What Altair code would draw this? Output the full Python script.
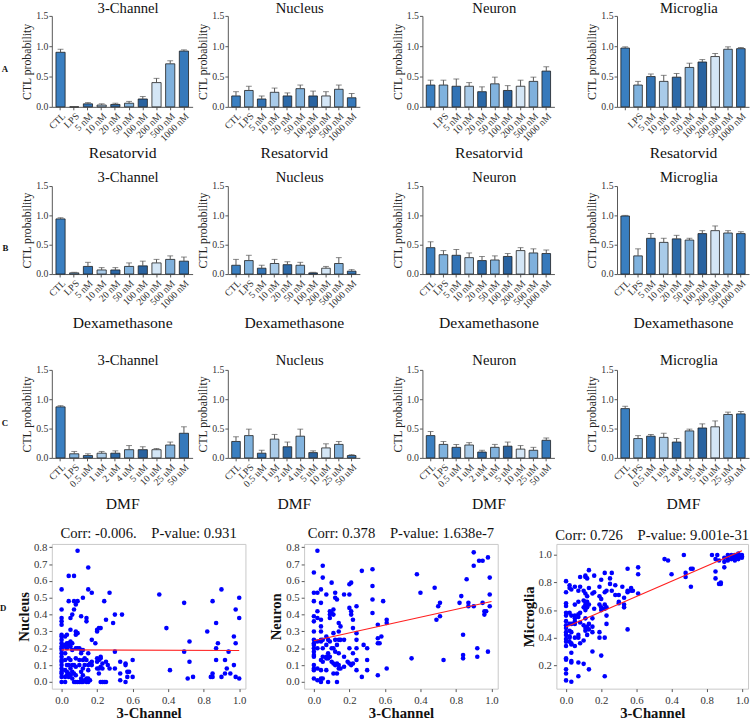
import altair as alt
import pandas as pd

FONT = "Liberation Serif"
AX = "#555555"

RES_CATS = ["CTL", "LPS", "5 nM", "10 nM", "20 nM", "50 nM", "100 nM", "200 nM", "500 nM", "1000 nM"]
DMF_CATS = ["CTL", "LPS", "0.5 uM", "1 uM", "2 uM", "4 uM", "5 uM", "10 uM", "25 uM", "50 uM"]
BAR_COLORS = ["#3a7fc1", "#7fb2de", "#3273b5", "#a9cbe9", "#2c69a8",
              "#82b3de", "#2a63a0", "#d4e6f6", "#7fb0dc", "#3679bb"]

# Row A - Resatorvid
A_3CH = [0.90, 0.00, 0.05, 0.03, 0.04, 0.06, 0.13, 0.40, 0.71, 0.92]
A_3CH_ERR = [0.05, 0.005, 0.02, 0.02, 0.02, 0.03, 0.04, 0.07, 0.05, 0.02]
A_NUC = [0.18, 0.27, 0.13, 0.24, 0.18, 0.30, 0.18, 0.18, 0.29, 0.15]
A_NUC_ERR = [0.07, 0.07, 0.05, 0.07, 0.05, 0.06, 0.08, 0.07, 0.07, 0.07]
A_NEU = [0.36, 0.36, 0.34, 0.34, 0.25, 0.38, 0.27, 0.34, 0.42, 0.59]
A_NEU_ERR = [0.08, 0.08, 0.12, 0.06, 0.08, 0.11, 0.08, 0.10, 0.07, 0.07]
A_MIC = [0.97, 0.36, 0.50, 0.42, 0.49, 0.65, 0.74, 0.83, 0.95, 0.96]
A_MIC_ERR = [0.02, 0.06, 0.04, 0.10, 0.06, 0.07, 0.04, 0.05, 0.04, 0.02]

# Row B - Dexamethasone
B_3CH = [0.94, 0.02, 0.13, 0.07, 0.07, 0.13, 0.14, 0.19, 0.25, 0.22]
B_3CH_ERR = [0.02, 0.01, 0.07, 0.04, 0.04, 0.06, 0.08, 0.06, 0.06, 0.07]
B_NUC = [0.15, 0.23, 0.10, 0.18, 0.16, 0.15, 0.02, 0.10, 0.18, 0.05]
B_NUC_ERR = [0.10, 0.09, 0.05, 0.07, 0.05, 0.05, 0.01, 0.03, 0.10, 0.03]
B_NEU = [0.45, 0.33, 0.32, 0.28, 0.23, 0.24, 0.30, 0.40, 0.36, 0.35]
B_NEU_ERR = [0.10, 0.07, 0.10, 0.08, 0.07, 0.07, 0.05, 0.05, 0.07, 0.06]
B_MIC = [0.99, 0.31, 0.61, 0.54, 0.60, 0.58, 0.69, 0.74, 0.70, 0.69]
B_MIC_ERR = [0.01, 0.12, 0.08, 0.07, 0.06, 0.03, 0.05, 0.08, 0.04, 0.03]

# Row C - DMF
C_3CH = [0.87, 0.07, 0.04, 0.08, 0.08, 0.14, 0.14, 0.14, 0.22, 0.42]
C_3CH_ERR = [0.02, 0.04, 0.03, 0.03, 0.04, 0.07, 0.05, 0.02, 0.05, 0.11]
C_NUC = [0.28, 0.38, 0.08, 0.32, 0.19, 0.37, 0.09, 0.17, 0.23, 0.04]
C_NUC_ERR = [0.08, 0.11, 0.05, 0.08, 0.08, 0.12, 0.03, 0.07, 0.05, 0.02]
C_NEU = [0.38, 0.23, 0.18, 0.22, 0.10, 0.18, 0.20, 0.15, 0.13, 0.30]
C_NEU_ERR = [0.07, 0.05, 0.05, 0.04, 0.03, 0.05, 0.07, 0.06, 0.05, 0.04]
C_MIC = [0.84, 0.33, 0.37, 0.35, 0.27, 0.46, 0.51, 0.53, 0.74, 0.75]
C_MIC_ERR = [0.04, 0.05, 0.03, 0.07, 0.06, 0.03, 0.07, 0.10, 0.04, 0.04]

# Row D scatter data, grouped by 3-Channel value: (x, [y values])
S1_GROUPS = [
    (0.00, [0.55, 0.43, 0.38, 0.36, 0.34, 0.28, 0.27, 0.25, 0.23, 0.21, 0.20, 0.19, 0.17, 0.15, 0.13, 0.12, 0.10, 0.08, 0.06, 0.05, 0.03, 0.0]),
    (0.02, [0.27, 0.22, 0.21, 0.17, 0.13, 0.07, 0.03, 0.0]),
    (0.03, [0.28, 0.23, 0.20, 0.10, 0.06, 0.04]),
    (0.04, [0.63, 0.48, 0.23, 0.22, 0.14, 0.10, 0.05, 0.03]),
    (0.05, [0.38, 0.31, 0.24, 0.21, 0.13, 0.08, 0.04]),
    (0.06, [0.40, 0.23, 0.19, 0.10, 0.06, 0.02]),
    (0.07, [0.63, 0.48, 0.43, 0.10, 0.05, 0.0]),
    (0.08, [0.46, 0.30, 0.28, 0.20, 0.14, 0.09, 0.04, 0.0]),
    (0.09, [0.78, 0.48, 0.29, 0.20, 0.0]),
    (0.10, [0.20, 0.13, 0.10, 0.0]),
    (0.11, [0.39, 0.19, 0.17, 0.06, 0.02, 0.0]),
    (0.12, [0.50, 0.19, 0.13, 0.08, 0.04, 0.0]),
    (0.13, [0.14, 0.10, 0.01]),
    (0.14, [0.38, 0.36, 0.13, 0.02, 0.0]),
    (0.15, [0.68, 0.55, 0.17, 0.10, 0.07, 0.02, 0.0]),
    (0.16, [0.11, 0.01]),
    (0.17, [0.53, 0.25, 0.12, 0.10]),
    (0.19, [0.23]),
    (0.20, [0.31, 0.30, 0.14, 0.12, 0.08]),
    (0.21, [0.32, 0.13, 0.08, 0.05]),
    (0.22, [0.32, 0.15, 0.14, 0.09, 0.0]),
    (0.23, [0.11, 0.08, 0.0]),
    (0.24, [0.48, 0.0]),
    (0.25, [0.37, 0.12, 0.0]),
    (0.26, [0.10]),
    (0.27, [0.53, 0.08]),
    (0.29, [0.35]),
    (0.30, [0.40, 0.18, 0.08]),
    (0.33, [0.12, 0.05, 0.01]),
    (0.34, [0.40]),
    (0.36, [0.11, 0.10, 0.0]),
    (0.37, [0.06, 0.03]),
    (0.38, [0.06]),
    (0.40, [0.13, 0.03]),
    (0.55, [0.52]),
    (0.59, [0.32]),
    (0.61, [0.07]),
    (0.69, [0.47, 0.18]),
    (0.71, [0.02]),
    (0.72, [0.24, 0.12]),
    (0.74, [0.03]),
    (0.82, [0.30]),
    (0.84, [0.03]),
    (0.85, [0.48, 0.05, 0.03]),
    (0.87, [0.35, 0.20, 0.13]),
    (0.88, [0.23]),
    (0.90, [0.55, 0.03]),
    (0.92, [0.13, 0.05]),
    (0.93, [0.08]),
    (0.94, [0.18]),
    (0.95, [0.05]),
    (0.97, [0.27, 0.10]),
    (0.98, [0.43, 0.23, 0.03]),
    (1.00, [0.50, 0.38, 0.02]),
]
S2_GROUPS = [
    (0.00, [0.65, 0.53, 0.48, 0.39, 0.36, 0.30, 0.25, 0.23, 0.22, 0.20, 0.18, 0.16, 0.15, 0.10, 0.08, 0.07, 0.02]),
    (0.02, [0.78, 0.53, 0.42, 0.38, 0.24, 0.20, 0.08, 0.01]),
    (0.04, [0.55, 0.47, 0.37, 0.33, 0.30, 0.25, 0.24, 0.13, 0.07, 0.02, 0.0]),
    (0.05, [0.69, 0.62, 0.25, 0.20, 0.15, 0.12, 0.02]),
    (0.07, [0.52, 0.27, 0.22, 0.15, 0.14, 0.07]),
    (0.08, [0.25, 0.17, 0.14, 0.0]),
    (0.09, [0.42, 0.40, 0.38, 0.24, 0.15]),
    (0.10, [0.59, 0.41, 0.20, 0.12]),
    (0.11, [0.43, 0.40, 0.29, 0.20, 0.11, 0.05]),
    (0.12, [0.53, 0.50, 0.25, 0.18, 0.10]),
    (0.13, [0.49, 0.22, 0.11, 0.05, 0.0]),
    (0.14, [0.35, 0.30, 0.25, 0.17, 0.10, 0.08]),
    (0.15, [0.33, 0.25, 0.08]),
    (0.17, [0.52, 0.25, 0.15, 0.09]),
    (0.19, [0.12]),
    (0.20, [0.58, 0.52, 0.44, 0.20, 0.11]),
    (0.21, [0.59, 0.42, 0.40, 0.10]),
    (0.22, [0.37, 0.32, 0.17, 0.11]),
    (0.24, [0.45, 0.29, 0.25, 0.20, 0.13, 0.07]),
    (0.27, [0.66, 0.03]),
    (0.28, [0.22]),
    (0.30, [0.20, 0.13, 0.07]),
    (0.33, [0.67, 0.57, 0.49, 0.41]),
    (0.36, [0.34, 0.26, 0.23, 0.04]),
    (0.37, [0.23]),
    (0.38, [0.27]),
    (0.39, [0.48]),
    (0.41, [0.37, 0.35, 0.08]),
    (0.55, [0.14]),
    (0.58, [0.64]),
    (0.60, [0.53]),
    (0.68, [0.56]),
    (0.69, [0.37]),
    (0.70, [0.45]),
    (0.71, [0.47, 0.39]),
    (0.73, [0.13]),
    (0.82, [0.47]),
    (0.83, [0.51]),
    (0.84, [0.28, 0.16, 0.14]),
    (0.86, [0.61]),
    (0.87, [0.47, 0.45]),
    (0.90, [0.77, 0.69, 0.45]),
    (0.92, [0.20, 0.15]),
    (0.93, [0.72]),
    (0.95, [0.72, 0.47]),
    (0.96, [0.42, 0.40]),
    (0.97, [0.42]),
    (0.98, [0.74, 0.18]),
    (0.99, [0.62, 0.52, 0.45]),
]
S3_GROUPS = [
    (0.00, [0.81, 0.73, 0.65, 0.63, 0.58, 0.56, 0.52, 0.49, 0.47, 0.44, 0.42, 0.39, 0.37, 0.34, 0.25, 0.24, 0.17, 0.14, 0.09]),
    (0.02, [0.78, 0.76, 0.58, 0.50, 0.45, 0.41, 0.40, 0.37]),
    (0.03, [0.75, 0.56, 0.50, 0.44, 0.36, 0.35, 0.29, 0.23, 0.22, 0.08]),
    (0.05, [0.77, 0.64, 0.56, 0.54, 0.52, 0.50, 0.40, 0.34]),
    (0.07, [0.74, 0.66, 0.57, 0.55, 0.42, 0.40, 0.22, 0.12]),
    (0.08, [0.84, 0.77, 0.58, 0.51, 0.36]),
    (0.10, [0.74, 0.67, 0.62, 0.49, 0.38, 0.21]),
    (0.11, [0.85, 0.84, 0.72, 0.66, 0.64, 0.60, 0.54, 0.47, 0.45]),
    (0.12, [0.83, 0.70, 0.66, 0.62, 0.48, 0.42]),
    (0.13, [0.89, 0.76, 0.64, 0.50, 0.46, 0.17]),
    (0.15, [0.72, 0.54, 0.48, 0.44, 0.30]),
    (0.16, [0.85, 0.73, 0.61]),
    (0.19, [0.77, 0.70, 0.64, 0.44, 0.40]),
    (0.20, [0.82, 0.68, 0.62, 0.60, 0.27]),
    (0.22, [0.87, 0.73, 0.64, 0.61, 0.40, 0.12]),
    (0.23, [0.74, 0.62, 0.56, 0.50]),
    (0.25, [0.83, 0.79]),
    (0.26, [0.87, 0.74]),
    (0.28, [0.78, 0.71]),
    (0.30, [0.71, 0.66, 0.65]),
    (0.32, [0.77]),
    (0.33, [0.69, 0.64, 0.62]),
    (0.35, [0.90, 0.74, 0.73, 0.46]),
    (0.37, [0.76, 0.74]),
    (0.38, [0.74]),
    (0.41, [0.91, 0.86, 0.72]),
    (0.56, [0.97]),
    (0.58, [0.96]),
    (0.60, [0.86]),
    (0.67, [1.00]),
    (0.68, [0.87, 0.84]),
    (0.71, [0.90, 0.77]),
    (0.72, [0.90]),
    (0.83, [1.00]),
    (0.85, [0.97, 0.88, 0.83]),
    (0.86, [1.00]),
    (0.87, [0.96, 0.79]),
    (0.88, [0.80, 0.79]),
    (0.90, [0.98, 0.95, 0.91]),
    (0.92, [1.00, 0.97, 0.96]),
    (0.94, [1.00, 0.99, 0.97]),
    (0.96, [1.00, 0.99, 0.98, 0.96]),
    (0.98, [1.01, 1.00, 0.99, 0.98, 0.97]),
    (1.00, [1.00, 0.99, 0.98]),
]
# regression lines: intercept, slope
REG_INTERCEPT = [0.190, 0.245, 0.478]
REG_SLOPE = [-0.003, 0.233, 0.552]
CORR_TITLES = ["Corr: -0.006.\u00a0\u00a0\u00a0\u00a0P-value: 0.931",
               "Corr: 0.378\u00a0\u00a0\u00a0\u00a0P-value: 1.638e-7",
               "Corr: 0.726\u00a0\u00a0\u00a0\u00a0P-value: 9.001e-31"]
X_TICKS = [0.0, 0.2, 0.4, 0.6, 0.8, 1.0]
X_TICK_LABELS = ["0.0", "0.2", "0.6", "0.4", "0.8", "1.0"]


def bar_panel(cats, vals, errs, title, subtitle, width, height, hide_ctl=False, toff=3, tpad=2):
    df = pd.DataFrame({"cat": cats, "v": vals, "e": errs, "col": BAR_COLORS})
    df["hi"] = df["v"] + df["e"]
    lab = "datum.value == 'CTL' ? '' : datum.label" if hide_ctl else "datum.label"
    x = alt.X("cat:N", sort=cats,
              scale=alt.Scale(paddingInner=0.33, paddingOuter=0.3),
              axis=alt.Axis(title=subtitle, labelAngle=-45, labelExpr=lab,
                            labelFontSize=10, labelPadding=1, tickSize=3,
                            titleFontSize=16, titleFontWeight="normal",
                            titlePadding=tpad, titleColor="#111"))
    ysc = alt.Scale(domain=[0, 1.5], nice=False)
    yax = alt.Axis(title="CTL probability", values=[0, 0.5, 1.0, 1.5], format=".1f",
                   labelFontSize=10, labelPadding=1, tickSize=3,
                   titleFontSize=12, titleFontWeight="normal", titlePadding=2,
                   titleColor="#222")
    bars = alt.Chart(df).mark_bar(stroke="#1c1c1c", strokeWidth=0.8).encode(
        x=x, y=alt.Y("v:Q", scale=ysc, axis=yax),
        color=alt.Color("col:N", scale=None))
    err = alt.Chart(df).mark_rule(color="#555", strokeWidth=1).encode(
        x=x, y=alt.Y("v:Q", scale=ysc, axis=yax), y2="hi:Q")
    cap = alt.Chart(df).mark_tick(color="#555", size=6, thickness=1).encode(
        x=x, y=alt.Y("hi:Q", scale=ysc, axis=yax))
    return alt.layer(bars, err, cap).properties(
        width=width, height=height,
        title=alt.TitleParams(title, font=FONT, fontSize=15, fontWeight="normal",
                              offset=toff, dx=6, color="#111"))


def flatten(groups):
    xs, ys = [], []
    for gx, gys in groups:
        for gy in gys:
            xs.append(gx)
            ys.append(gy)
    return xs, ys


def scatter_panel(groups, ytitle, title, ydom, yvals, b, m, width):
    xs, ys = flatten(groups)
    df = pd.DataFrame({"x": xs, "y": ys})
    xsc = alt.Scale(domain=[-0.055, 1.035], nice=False, zero=False)
    ysc = alt.Scale(domain=ydom, nice=False, zero=False)
    lab_expr = "[" + ",".join("'%s'" % t for t in X_TICK_LABELS) + "][round(datum.value*5)]"
    xa = alt.Axis(title="3-Channel", values=X_TICKS, labelExpr=lab_expr, domain=False,
                  tickSize=3, labelFontSize=11, labelPadding=3,
                  titleFontSize=15, titleFontWeight="bold", titlePadding=1, titleColor="#111")
    ya = alt.Axis(title=ytitle, values=yvals, format=".1f", domain=False,
                  tickSize=3, labelFontSize=11, labelPadding=2,
                  titleFontSize=15, titleFontWeight="bold", titlePadding=2, titleColor="#111")
    pts = alt.Chart(df).mark_circle(color="#0000ff", size=22, opacity=1).encode(
        x=alt.X("x:Q", scale=xsc, axis=xa), y=alt.Y("y:Q", scale=ysc, axis=ya))
    ldf = pd.DataFrame({"x": [0.0, 1.0], "y": [b, b + m]})
    line = alt.Chart(ldf).mark_line(color="#ff2020", strokeWidth=1.2).encode(
        x=alt.X("x:Q", scale=xsc, axis=xa), y=alt.Y("y:Q", scale=ysc, axis=ya))
    return alt.layer(pts, line).properties(
        width=width, height=148,
        view=alt.ViewBackground(stroke="#c8c8c8", strokeWidth=1),
        title=alt.TitleParams(title, font=FONT, fontSize=15, fontWeight="normal",
                              offset=1, color="#111"))


def letter(t, dy, off):
    return alt.TitleParams(t, orient="left", angle=0, anchor="middle", dy=dy,
                           font=FONT, fontSize=9, fontWeight="bold", offset=off, color="#111")


def bar_row(cats, data, subtitle, height, hide_ctl_cols, row_letter, dy, toff, tpad):
    names = ["3-Channel", "Nucleus", "Neuron", "Microglia"]
    panels = []
    for i, (vals, errs) in enumerate(data):
        w = 144 if i == 0 else 135
        panels.append(bar_panel(cats, vals, errs, names[i], subtitle, w, height,
                                hide_ctl=(i in hide_ctl_cols), toff=toff, tpad=tpad))
    return alt.hconcat(panels[0], alt.hconcat(*panels[1:], spacing=32),
                       spacing=4, title=letter(row_letter, dy, 10))


row_a = bar_row(RES_CATS, [(A_3CH, A_3CH_ERR), (A_NUC, A_NUC_ERR), (A_NEU, A_NEU_ERR), (A_MIC, A_MIC_ERR)],
                "Resatorvid", 93, [2, 3], "A", -16, -5, 2)
row_b = bar_row(RES_CATS, [(B_3CH, B_3CH_ERR), (B_NUC, B_NUC_ERR), (B_NEU, B_NEU_ERR), (B_MIC, B_MIC_ERR)],
                "Dexamethasone", 90, [], "B", -6, -4, 5)
row_c = bar_row(DMF_CATS, [(C_3CH, C_3CH_ERR), (C_NUC, C_NUC_ERR), (C_NEU, C_NEU_ERR), (C_MIC, C_MIC_ERR)],
                "DMF", 90, [], "C", -13, -3, 7)

s1 = scatter_panel(S1_GROUPS, "Nucleus", CORR_TITLES[0], [-0.04, 0.82],
                   [0, 0.1, 0.2, 0.3, 0.4, 0.5, 0.6, 0.7, 0.8], REG_INTERCEPT[0], REG_SLOPE[0], 198)
s2 = scatter_panel(S2_GROUPS, "Neuron", CORR_TITLES[1], [-0.04, 0.82],
                   [0, 0.1, 0.2, 0.3, 0.4, 0.5, 0.6, 0.7, 0.8], REG_INTERCEPT[1], REG_SLOPE[1], 198)
s3 = scatter_panel(S3_GROUPS, "Microglia", CORR_TITLES[2], [0.03, 1.08],
                   [0.2, 0.4, 0.6, 0.8, 1.0], REG_INTERCEPT[2], REG_SLOPE[2], 196)
row_d = alt.hconcat(s1, s2, s3, spacing=21, title=letter("D", -20, 7))

lower = alt.vconcat(row_c, row_d, spacing=13)
middle = alt.vconcat(row_b, lower, spacing=23)
chart = alt.vconcat(row_a, middle, spacing=10).properties(
    padding={"left": 0, "top": -7, "right": 0, "bottom": 0}
).configure_view(stroke=None).configure_axis(
    labelFont=FONT, titleFont=FONT, domainColor=AX, tickColor=AX,
    labelColor="#333", grid=False
).configure_title(font=FONT)

chart.save("out.html", embed_options={"renderer": "svg", "actions": False})
